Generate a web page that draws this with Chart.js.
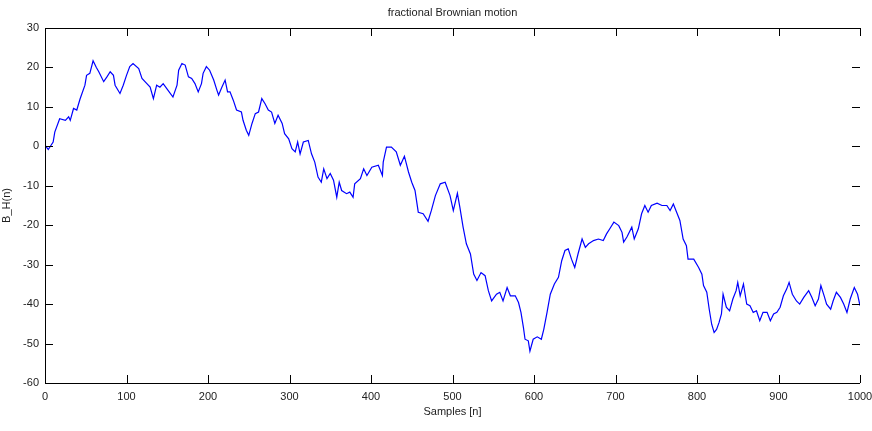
<!DOCTYPE html>
<html>
<head>
<meta charset="utf-8">
<script src="https://cdn.jsdelivr.net/npm/chart.js@4.4.1/dist/chart.umd.min.js"></script>
<style>
  html, body { margin: 0; padding: 0; background: #fff; }
</style>
</head>
<body>
<canvas id="fbm" width="872" height="431"></canvas>
<script>
// fBm path (sample index / value)
var sampleIdx = [0, 4, 10, 12, 18, 25, 29, 31, 35, 39, 43, 49, 51, 55, 59, 63, 66, 72, 76, 80, 84, 86, 92, 96, 100,
  104, 108, 115, 119, 125, 129, 133, 137, 141, 145, 151, 157, 162, 164, 168, 172, 176, 180, 184, 188, 192, 194, 198,
  202, 207, 211, 213, 217, 221, 224, 227, 231, 235, 241, 243, 247, 250, 254, 258, 262, 266, 270, 274, 278, 282, 286,
  291, 294, 299, 303, 307, 310, 313, 317, 323, 327, 331, 335, 339, 342, 346, 350, 354, 358, 361, 364, 370, 374, 378,
  380, 387, 391, 395, 401, 409, 414, 415, 419, 425, 431, 436, 441, 446, 450, 454, 458, 464, 470, 474, 479, 485, 491,
  497, 501, 506, 509, 513, 517, 522, 526, 530, 535, 540, 544, 548, 554, 558, 562, 567, 571, 577, 581, 584, 587, 589,
  593, 595, 599, 604, 609, 612, 616, 620, 625, 630, 634, 638, 642, 646, 650, 654, 659, 663, 667, 673, 679, 685, 689,
  693, 698, 704, 708, 710, 714, 720, 723, 728, 732, 736, 740, 744, 751, 757, 763, 767, 771, 775, 779, 783, 787, 789,
  796, 802, 806, 808, 812, 815, 818, 821, 824, 827, 830, 832, 836, 840, 844, 848, 850, 853, 857, 861, 865, 869, 873,
  877, 881, 886, 890, 894, 898, 902, 906, 910, 913, 917, 922, 926, 931, 937, 941, 945, 949, 952, 956, 959, 964, 967,
  971, 976, 980, 984, 988, 993, 997, 1000];
var fbmValues = [0.3, -0.8, 1.1, 3.6, 7, 6.6, 7.5, 6.6, 9.6, 9.2, 12, 15.5, 18, 18.5, 21.7, 20, 18.9, 16.4, 17.6, 18.9, 18, 15.5, 13.4, 15.5, 18,
  20.2, 21, 19.7, 17.2, 15.9, 15, 12.1, 15.5, 15, 15.9, 14.2, 12.5, 15.5, 19.3, 21, 20.6, 17.6, 17.2, 15.9, 13.8, 15.9, 18.5, 20.2,
  19.3, 16.8, 14.2, 13, 15, 16.8, 13.8, 13.8, 11.7, 9.2, 8.7, 6.6, 4.1, 2.8, 5.8, 8.3, 8.7, 12.1, 10.8, 9.2, 8.7, 5.8, 7.9,
  5.8, 3.2, 1.9, -0.6, -1.4, 1.1, -1.9, 1.1, 1.5, -1.9, -4, -7.8, -9.1, -5.7, -8.2, -6.9, -8.6, -12.9, -9.1, -11.2, -12, -11.6, -12.9,
  -9.5, -8.2, -5.7, -7.4, -5.3, -4.8, -7.4, -4, -0.2, -0.2, -1.4, -4.8, -2.5, -6.5, -9.1, -11.2, -16.7, -17.1, -19, -16.3, -12.5, -9.5, -9.1,
  -12.5, -16.3, -11.9, -15.4, -20.5, -24.7, -27.3, -32.4, -34, -32, -32.8, -36.6, -39.2, -37.5, -37, -39.2, -35.8, -37.9, -37.9, -39.6, -42.1, -45.9, -48.9,
  -49.3, -51.9, -48.9, -48.3, -48.9, -46.4, -42.1, -37.5, -34.9, -33.2, -29, -26.4, -26, -28.6, -30.7, -27.3, -23.5, -25.6, -24.7, -23.9, -23.5, -23.9, -22.2,
  -20.9, -19.2, -20.1, -21.8, -24.3, -23, -20.5, -23.5, -20.9, -17.1, -15, -16.7, -15, -14.4, -15, -15, -16.3, -14.6, -16.7, -18.8, -23.5, -25.2, -28.6,
  -28.6, -30.7, -32.4, -35.3, -37, -41.3, -45.1, -47.2, -46.4, -44.7, -42.5, -37.5, -40.8, -41.7, -38.7, -36.6, -34.5, -37.9, -34.9, -40, -40.4, -42.1, -41.7,
  -44.2, -42.1, -42.1, -44.2, -42.5, -42.1, -40.8, -37.9, -36.2, -34.5, -37.5, -39.2, -40, -38.3, -36.6, -38.3, -40.4, -38.7, -35.3, -37.9, -40, -41.3, -39.2,
  -37, -38.3, -40, -42.1, -38.7, -35.8, -37.5, -40.4];

var xTicks = [0, 100, 200, 300, 400, 500, 600, 700, 800, 900, 1000];
var yTicks = [30, 20, 10, 0, -10, -20, -30, -40, -50, -60];

var points = sampleIdx.map(function (n, i) { return { x: n, y: fbmValues[i] }; });

var labelFont = { family: "'Liberation Sans', Arial, sans-serif", size: 11 };

// matlab style: box + ticks pointing inward, title centered on the axes
var matlabBox = {
  id: 'matlabBox',
  afterDatasetsDraw: function (chart) {
    var ctx = chart.ctx, a = chart.chartArea;
    var xs = chart.scales.x, ys = chart.scales.y;
    var len = 8;
    ctx.save();
    ctx.strokeStyle = '#000';
    ctx.lineWidth = 1;
    ctx.beginPath();
    ctx.moveTo(a.left + 0.5, a.top + 0.5);
    ctx.lineTo(a.right, a.top + 0.5);
    ctx.moveTo(a.left + 0.5, a.top);
    ctx.lineTo(a.left + 0.5, a.bottom + 0.5);
    ctx.lineTo(a.right, a.bottom + 0.5);
    xTicks.forEach(function (v) {
      var px = Math.round(xs.getPixelForValue(v)) + 0.5;
      ctx.moveTo(px, a.bottom);
      ctx.lineTo(px, a.bottom - len);
      ctx.moveTo(px, a.top);
      ctx.lineTo(px, a.top + len);
    });
    yTicks.forEach(function (v) {
      var py = Math.round(ys.getPixelForValue(v)) + 0.5;
      ctx.moveTo(a.left, py);
      ctx.lineTo(a.left + len, py);
      ctx.moveTo(a.right, py);
      ctx.lineTo(a.right - len, py);
    });
    ctx.stroke();

    ctx.fillStyle = '#222';
    ctx.font = "11px 'Liberation Sans', Arial, sans-serif";
    ctx.textAlign = 'center';
    ctx.textBaseline = 'middle';
    ctx.fillText('fractional Brownian motion', (a.left + a.right) / 2, 13);
    ctx.restore();
  }
};

new Chart(document.getElementById('fbm'), {
  type: 'line',
  data: {
    datasets: [{
      data: points,
      borderColor: '#0000ff',
      borderWidth: 1.2,
      pointRadius: 0,
      tension: 0,
      fill: false
    }]
  },
  options: {
    responsive: false,
    animation: false,
    layout: { padding: { top: 28, right: 12, bottom: 8, left: 0 } },
    plugins: { legend: { display: false }, tooltip: { enabled: false } },
    scales: {
      x: {
        type: 'linear',
        min: 0,
        max: 1000,
        afterFit: function (s) { s.height = 40; s.paddingLeft = 0; s.paddingRight = 0; },
        afterBuildTicks: function (s) { s.ticks = xTicks.map(function (v) { return { value: v }; }); },
        grid: { display: false, drawTicks: false },
        border: { display: false },
        ticks: {
          color: '#222', font: labelFont, padding: 7, maxRotation: 0,
          callback: function (v) { return String(v); }
        },
        title: { display: true, text: 'Samples [n]', color: '#222', font: labelFont, padding: { top: 0, bottom: 4 } }
      },
      y: {
        min: -60,
        max: 30,
        afterFit: function (s) { s.width = 45; s.paddingTop = 0; s.paddingBottom = 0; },
        afterBuildTicks: function (s) { s.ticks = yTicks.map(function (v) { return { value: v }; }); },
        grid: { display: false, drawTicks: false },
        border: { display: false },
        ticks: { color: '#222', font: labelFont, padding: 6 },
        title: { display: true, text: 'B_H(n)', color: '#222', font: labelFont, padding: { top: 0, bottom: 0 } }
      }
    }
  },
  plugins: [matlabBox]
});
</script>
</body>
</html>
